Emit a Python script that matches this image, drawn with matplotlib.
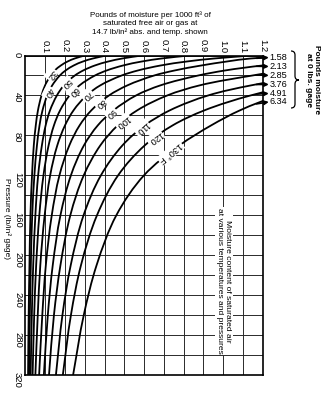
import numpy as np
import matplotlib
matplotlib.use('Agg')
import matplotlib.pyplot as plt
from matplotlib.path import Path
from matplotlib.patches import PathPatch

plt.rcParams['font.family'] = ['Liberation Sans', 'DejaVu Sans']

pressure = [0, 3, 6, 10, 15, 20, 30, 40, 55, 70, 90, 120, 160, 210, 260, 320]

# pounds of moisture per 1000 ft3, one list per temperature curve
m32 = [0.300, 0.249, 0.213, 0.179, 0.148, 0.127, 0.099, 0.081, 0.063, 0.052, 0.042, 0.033, 0.025, 0.020, 0.016, 0.013]
m40 = [0.410, 0.341, 0.291, 0.244, 0.203, 0.174, 0.135, 0.110, 0.086, 0.071, 0.058, 0.045, 0.034, 0.027, 0.022, 0.018]
m50 = [0.590, 0.490, 0.419, 0.351, 0.292, 0.250, 0.194, 0.159, 0.124, 0.102, 0.083, 0.064, 0.050, 0.039, 0.032, 0.026]
m60 = [0.830, 0.689, 0.589, 0.494, 0.411, 0.352, 0.273, 0.223, 0.175, 0.144, 0.117, 0.091, 0.070, 0.054, 0.044, 0.036]
m70 = [1.150, 0.955, 0.817, 0.684, 0.569, 0.487, 0.378, 0.309, 0.243, 0.200, 0.161, 0.125, 0.097, 0.075, 0.062, 0.050]
m80 = [1.580, 1.140, 1.020, 0.890, 0.755, 0.652, 0.515, 0.423, 0.333, 0.274, 0.222, 0.172, 0.133, 0.103, 0.085, 0.069]
m90 = [2.130, 1.650, 1.430, 1.200, 1.010, 0.875, 0.682, 0.560, 0.445, 0.366, 0.296, 0.230, 0.177, 0.138, 0.113, 0.093]
m100 = [2.850, 2.150, 1.820, 1.530, 1.310, 1.150, 0.880, 0.718, 0.565, 0.467, 0.379, 0.295, 0.227, 0.177, 0.144, 0.119]
m110 = [3.760, 2.800, 2.350, 1.980, 1.680, 1.450, 1.140, 0.925, 0.730, 0.604, 0.491, 0.382, 0.294, 0.229, 0.187, 0.154]
m120 = [4.910, 3.450, 2.900, 2.430, 2.040, 1.760, 1.370, 1.140, 0.905, 0.745, 0.604, 0.469, 0.362, 0.281, 0.230, 0.189]
m130 = [6.340, 4.500, 3.550, 2.780, 2.200, 1.860, 1.470, 1.280, 1.085, 0.940, 0.780, 0.600, 0.460, 0.360, 0.295, 0.241]

curves = [m32, m40, m50, m60, m70, m80, m90, m100, m110, m120, m130]
temp_labels = ['32', '40', '50', '60', '70', '80', '90', '100', '110', '120', '130° F']

# moisture at 0 lbs gage for the curves that leave the chart
zero_gage = ['1.58', '2.13', '2.85', '3.76', '4.91', '6.34']

x_ticks = [0.1, 0.2, 0.3, 0.4, 0.5, 0.6, 0.7, 0.8, 0.9, 1.0, 1.1, 1.2]
x_ticklabels = ['0.1', '0.2', '0.3', '0.4', '0.5', '0.6', '0.7', '0.8', '0.9', '1.0', '1.1', '1.2']
y_ticks = [0, 40, 80, 120, 160, 200, 240, 280, 320]

# where the inline labels sit (pressure along each curve) and where the
# 0-gage numbers sit beside the right edge
label_p = [19, 37, 27.5, 36, 39.5, 47.5, 57.5, 66, 72.5, 82.5, 97.5]
zero_gage_p = [2, 11, 20, 29, 38, 46.5]


def smooth_path(ax, xs, ys):
    # bezier through the read points, worked out in pixel space
    pts = ax.transData.transform(np.column_stack([xs, ys]))
    d = np.diff(pts, axis=0)
    seg = np.hypot(d[:, 0], d[:, 1])
    u = d / seg[:, None]
    tan = np.zeros_like(pts)
    tan[0] = u[0]
    tan[-1] = u[-1]
    for i in range(1, len(pts) - 1):
        t = u[i - 1] + u[i]
        tan[i] = t / np.hypot(t[0], t[1])
    verts = [pts[0]]
    codes = [Path.MOVETO]
    for i in range(len(pts) - 1):
        verts += [pts[i] + tan[i] * seg[i] / 3, pts[i + 1] - tan[i + 1] * seg[i] / 3, pts[i + 1]]
        codes += [Path.CURVE4] * 3
    verts = ax.transData.inverted().transform(np.array(verts))
    return Path(verts, codes)


W, H = 336, 399
fig = plt.figure(figsize=(W / 100, H / 100), dpi=100)
ax = fig.add_axes([25.5 / W, 1 - 375 / H, 237 / W, (375 - 55.5) / H])
ax.set_xlim(0, 1.2)
ax.set_ylim(320, 0)
ax.xaxis.tick_top()
ax.set_xticks(x_ticks)
ax.set_xticklabels(x_ticklabels)
ax.set_yticks(y_ticks)
ax.set_yticks(np.arange(20, 320, 40), minor=True)
ax.tick_params(which='both', length=0)
ax.tick_params(axis='x', labelrotation=-90, pad=2, labelsize=6.8)
ax.tick_params(axis='y', labelrotation=-90, pad=2.5, labelsize=6.8)
ax.grid(True, which='both', color='#2a2a2a', lw=0.7)
ax.set_axisbelow(True)
for s in ax.spines.values():
    s.set_linewidth(1.2)

for vals in curves:
    ax.add_patch(PathPatch(smooth_path(ax, vals, pressure), fill=False,
                           color='k', lw=1.3, zorder=3))

# inline temperature labels, turned along the curve
for vals, lab, p in zip(curves, temp_labels, label_p):
    w = np.interp(p, pressure, vals)
    a = ax.transData.transform((np.interp(p - 3, pressure, vals), p - 3))
    b = ax.transData.transform((np.interp(p + 3, pressure, vals), p + 3))
    ang = np.degrees(np.arctan2(b[1] - a[1], b[0] - a[0]))
    ax.text(w, p, lab, rotation=ang, rotation_mode='anchor', ha='center', va='center',
            fontsize=6.6, zorder=5,
            bbox=dict(facecolor='white', edgecolor='none', pad=0.7))

# arrows off the right edge to the 0-gage values
for vals, lab, p_tip in zip(curves[5:], zero_gage, zero_gage_p):
    p_in = np.interp(1.17, vals[::-1], pressure[::-1])
    ax.annotate('', xy=(1.232, p_tip), xytext=(1.17, p_in),
                arrowprops=dict(arrowstyle='-|>', color='k', lw=1.2, mutation_scale=6,
                                shrinkA=0, shrinkB=0),
                annotation_clip=False, zorder=4)
    ax.text(1.236, p_tip, lab, ha='left', va='center', fontsize=6.6, clip_on=False)

ax.text(1.005, 226, 'Moisture content of saturated air\nat various temperatures and pressures',
        rotation=-90, ha='center', va='center', fontsize=6.1, linespacing=1.2, zorder=5,
        bbox=dict(facecolor='white', edgecolor='none', pad=1.0))

fig.text(150 / W, 1 - 24 / H,
         'Pounds of moisture per 1000 ft³ of\nsaturated free air or gas at\n14.7 lb/in² abs. and temp. shown',
         ha='center', va='center', fontsize=5.8, linespacing=1.2)
fig.text(7 / W, 1 - 219 / H, 'Pressure (lb/in² gage)', rotation=-90,
         ha='center', va='center', fontsize=6)
fig.text(312.5 / W, 1 - 80 / H, 'Pounds moisture\nat 0 lbs. gage', rotation=-90,
         ha='center', va='center', fontsize=6, fontweight='bold', linespacing=1.3)

# curly brace next to the 0-gage values (pixel coords)
bx = [291, 295, 295, 295, 295, 299, 295, 295, 295, 295, 291]
by = [51, 51, 55, 76, 80, 80, 80, 84, 104, 108, 108]
codes = [Path.MOVETO, Path.CURVE3, Path.CURVE3, Path.LINETO, Path.CURVE3, Path.CURVE3,
         Path.CURVE3, Path.CURVE3, Path.LINETO, Path.CURVE3, Path.CURVE3]
verts = [(x / W, 1 - y / H) for x, y in zip(bx, by)]
fig.patches.append(PathPatch(Path(verts, codes), transform=fig.transFigure,
                             fill=False, lw=0.9, color='k'))

fig.savefig('out.png', dpi=100)
